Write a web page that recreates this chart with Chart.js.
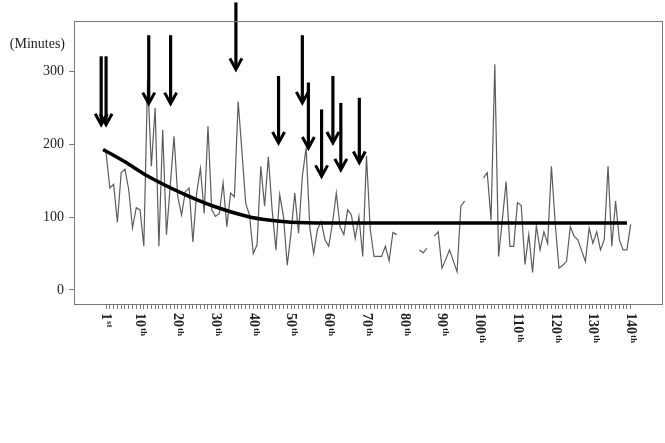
<!DOCTYPE html>
<html>
<head>
<meta charset="utf-8">
<script src="https://cdn.jsdelivr.net/npm/chart.js@4.4.1/dist/chart.umd.min.js"></script>
<style>
  html, body { margin: 0; padding: 0; background: #fff; }
  #wrap { width: 665px; height: 443px; }
</style>
</head>
<body>
<div id="wrap"><canvas id="chart" width="665" height="443"></canvas></div>
<script>
// ---- data ----
// minutes per session, index 1..140, null = no record
const minutes = [
  188, 140, 145, 93, 161, 166, 138, 85, 113, 110,
  60, 289, 170, 250, 60, 220, 76, 143, 211, 128,
  103, 135, 140, 66, 133, 167, 105, 225, 110, 101,
  105, 147, 87, 133, 128, 259, 190, 119, 103, 50,
  62, 170, 115, 183, 110, 55, 131, 101, 34, 78,
  133, 78, 156, 195, 85, 50, 83, 94, 69, 60,
  92, 133, 87, 76, 110, 103, 71, 101, 46, 184,
  83, 46, 46, 46, 60, 40, 79, 76, null, null,
  null, null, null, 55, 51, 57, null, 74, 80, 30,
  42, 55, 40, 25, 115, 122, null, null, null, null,
  154, 161, 96, 310, 46, 97, 149, 60, 60, 120,
  116, 35, 76, 24, 88, 55, 80, 64, 170, 92,
  30, 34, 39, 87, 74, 69, 54, 39, 85, 64,
  80, 55, 69, 170, 60, 122, 69, 55, 55, 90
];

// fitted trend line (thick black)
const trendX = [0.2, 6, 11.5, 21.5, 29.5, 38.5, 44, 50, 60, 139];
const trendY = [193, 176, 158, 132, 115, 101, 96, 93, 92, 92];

// arrows: x position, start value, tip value
const arrowX   = [-0.3, 1.0, 12.3, 18.1, 35.4, 46.7, 53.0, 54.6, 58.1, 61.1, 63.2, 68.1];
const arrowTop = [321, 321, 350, 350, 395, 294, 350, 285, 248, 294, 257, 264];
const arrowTip = [227, 227, 256, 256, 303, 202, 257, 195, 156, 202, 165, 175];

const yTicks = [0, 100, 200, 300];
const xLabelVals = [1, 10, 20, 30, 40, 50, 60, 70, 80, 90, 100, 110, 120, 130, 140];
const xLabelSuffix = ['st', 'th', 'th', 'th', 'th', 'th', 'th', 'th', 'th', 'th', 'th', 'th', 'th', 'th', 'th'];
const yTitle = '(Minutes)';

const serif = '"Liberation Serif", "DejaVu Serif", serif';

// ---- plugin: frame, labels, arrows ----
const decor = {
  id: 'decor',
  afterDatasetsDraw(chart) {
    const ctx = chart.ctx;
    const xs = chart.scales.x, ys = chart.scales.y;
    ctx.save();
    ctx.strokeStyle = '#000';
    ctx.lineCap = 'butt';
    arrowX.forEach((v, i) => {
      const px = xs.getPixelForValue(v);
      const top = ys.getPixelForValue(arrowTop[i]);
      const tip = ys.getPixelForValue(arrowTip[i]);
      ctx.lineWidth = 3.2;
      ctx.beginPath();
      ctx.moveTo(px, top);
      ctx.lineTo(px, tip - 1);
      ctx.stroke();
      ctx.lineWidth = 3;
      ctx.beginPath();
      ctx.moveTo(px - 6, tip - 11);
      ctx.lineTo(px, tip);
      ctx.lineTo(px + 6, tip - 11);
      ctx.stroke();
    });
    ctx.restore();
  },
  afterDraw(chart) {
    const ctx = chart.ctx;
    const a = chart.chartArea;
    const xs = chart.scales.x;
    ctx.save();
    // frame
    ctx.strokeStyle = '#7a7a7a';
    ctx.lineWidth = 1;
    ctx.strokeRect(Math.round(a.left) + 0.5, Math.round(a.top) + 0.5,
      Math.round(a.right - a.left), Math.round(a.bottom - a.top));
    // y title
    ctx.fillStyle = '#222';
    ctx.font = '14px ' + serif;
    ctx.textAlign = 'right';
    ctx.textBaseline = 'middle';
    ctx.fillText(yTitle, a.left - 9, 44);
    // x labels, rotated clockwise, with ordinal suffix
    xLabelVals.forEach((v, i) => {
      const px = xs.getPixelForValue(v);
      ctx.save();
      ctx.translate(px, a.bottom + 9);
      ctx.rotate(Math.PI / 2);
      ctx.textAlign = 'left';
      ctx.textBaseline = 'middle';
      ctx.font = 'bold 14px ' + serif;
      const s = String(v);
      ctx.fillText(s, 0, 0);
      const w = ctx.measureText(s).width;
      ctx.font = 'bold 9px ' + serif;
      ctx.fillText(xLabelSuffix[i], w + 1, -3);
      ctx.restore();
    });
    ctx.restore();
  }
};

new Chart(document.getElementById('chart'), {
  type: 'line',
  data: {
    datasets: [
      {
        label: 'minutes',
        data: minutes.map((m, i) => ({ x: i + 1, y: m })),
        borderColor: '#5c5c5c',
        borderWidth: 1.2,
        pointRadius: 0,
        tension: 0,
        spanGaps: false,
        order: 2
      },
      {
        label: 'trend',
        data: trendX.map((x, i) => ({ x: x, y: trendY[i] })),
        borderColor: '#000',
        borderWidth: 3.5,
        pointRadius: 0,
        cubicInterpolationMode: 'monotone',
        order: 1
      }
    ]
  },
  options: {
    responsive: false,
    devicePixelRatio: 1,
    animation: false,
    layout: { padding: { top: 21, right: 3, left: 0, bottom: 0 } },
    plugins: { legend: { display: false }, tooltip: { enabled: false } },
    scales: {
      x: {
        type: 'linear',
        min: -7.5,
        max: 148.3,
        afterBuildTicks(scale) {
          const t = [];
          for (let i = 1; i <= minutes.length; i++) t.push({ value: i });
          scale.ticks = t;
        },
        afterFit(scale) { scale.height = 139; },
        ticks: { display: false },
        grid: { drawOnChartArea: false, drawTicks: true, tickLength: 5, color: '#7a7a7a' },
        border: { display: false }
      },
      y: {
        min: -19.3,
        max: 369.5,
        afterBuildTicks(scale) { scale.ticks = yTicks.map(v => ({ value: v })); },
        afterFit(scale) { scale.width = 74; },
        ticks: { color: '#222', font: { family: serif, size: 14 }, padding: 5 },
        grid: { drawOnChartArea: false, drawTicks: true, tickLength: 5, color: '#7a7a7a' },
        border: { display: false }
      }
    }
  },
  plugins: [decor]
});
</script>
</body>
</html>
